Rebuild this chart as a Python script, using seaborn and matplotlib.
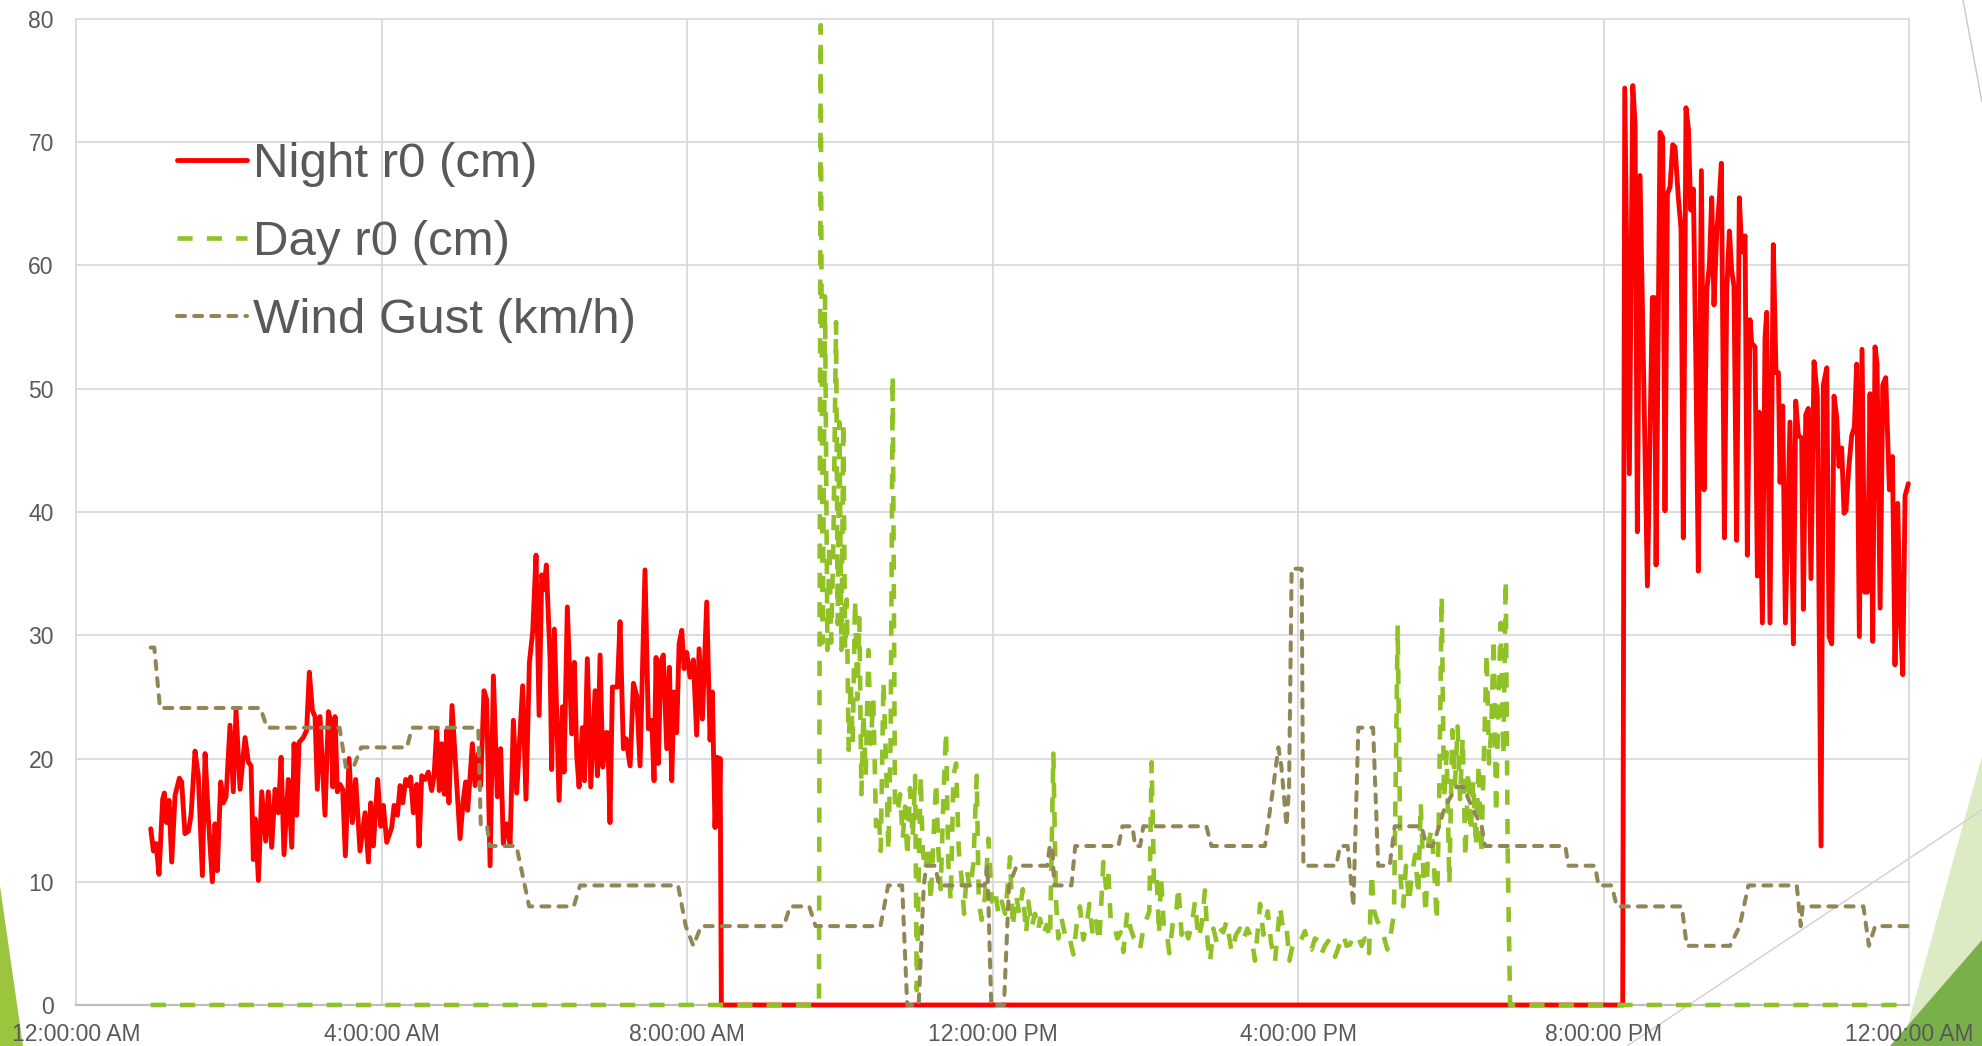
import matplotlib
matplotlib.use("Agg")
import matplotlib.pyplot as plt
import seaborn as sns
from matplotlib.patches import Polygon
from matplotlib.lines import Line2D

# ---- data: minutes after midnight and measured values ----
night_t = [58.7, 60.8, 62.9, 65.2, 68.1, 69.4, 71.2, 73.1, 75.2, 77.8, 81.2, 83.0, 85.6, 88.3, 90.4,
           93.5, 96.1, 99.3, 101.4, 104.0, 107.1, 109.2, 111.0, 113.7, 115.8, 117.9, 121.0, 123.6,
           125.7, 128.9, 132.8, 135.4, 137.5, 139.3, 140.9, 143.3, 145.9, 149.0, 151.1, 153.7, 156.4,
           159.0, 161.1, 163.4, 166.8, 169.5, 171.3, 173.4, 175.2, 178.6, 181.2, 183.3, 185.7, 187.8,
           189.6, 191.7, 195.6, 198.3, 200.4, 201.7, 203.5, 205.3, 207.4, 209.5, 211.6, 214.5, 217.1,
           219.7, 223.1, 227.1, 229.7, 231.5, 233.6, 237.0, 239.4, 241.5, 244.1, 248.0, 249.9, 252.5,
           254.6, 256.7, 259.0, 261.1, 262.9, 265.0, 267.7, 269.5,
           271.6, 274.2, 276.8, 279.4, 281.3, 283.4, 285.4, 287.3, 289.4, 291.2, 293.0, 295.4, 297.8,
           301.7, 304.3, 306.1, 307.7, 311.4, 313.5, 316.1, 317.9, 320.5, 322.6, 325.3, 327.9, 331.0,
           333.6, 335.7, 338.4, 341.0, 343.6, 346.2, 350.9, 353.5, 356.2, 358.8, 361.4, 363.8, 365.9,
           367.7, 369.5, 372.4, 373.7, 375.8, 379.5, 382.1, 383.4, 386.0, 389.4, 391.5, 393.4, 395.2,
           397.8, 399.4, 401.7, 404.4, 407.8, 409.6, 411.7, 413.8, 416.4, 417.7, 419.5, 421.4, 425.3,
           427.4, 430.0, 432.1, 435.3, 437.9, 440.5, 443.1, 447.0, 449.7, 452.3, 454.1, 455.7, 457.5,
           459.4, 461.4, 464.1, 466.2, 468.0, 469.8, 471.9, 473.8, 475.9, 477.7, 479.8, 482.4, 485.0,
           487.6, 489.5, 492.1, 495.5, 498.1, 499.9, 502.0, 503.9, 505.0, 506.0, 507.0,
           1215.1, 1216.7, 1220.3, 1223.0, 1224.8, 1226.6, 1228.7, 1234.5, 1238.4, 1240.0, 1241.3,
           1244.4, 1246.5, 1248.3, 1250.2, 1252.3, 1254.4, 1256.2, 1258.8, 1260.9, 1262.7, 1264.8,
           1266.7, 1268.5, 1270.6, 1272.7, 1274.5, 1276.9, 1279.0, 1281.1, 1283.2, 1285.0, 1286.8,
           1288.9, 1290.8, 1292.6, 1295.0, 1296.8, 1298.9, 1300.7, 1302.5, 1304.6, 1306.7, 1308.6,
           1311.2, 1313.0, 1315.1, 1316.4, 1319.0, 1320.9, 1322.4, 1324.8, 1326.9, 1328.2, 1330.8,
           1333.4, 1335.5, 1337.4, 1338.7, 1340.8, 1342.9, 1346.5, 1349.2, 1351.0, 1353.1, 1355.7,
           1357.0, 1358.9, 1360.9, 1363.0, 1365.4, 1368.0, 1370.9, 1372.7, 1375.4, 1377.2, 1379.3,
           1381.1, 1383.2, 1385.0, 1387.1, 1389.0, 1390.5, 1392.6, 1395.0, 1397.1, 1398.9, 1401.0,
           1403.1, 1405.2, 1407.3, 1409.4, 1411.5, 1413.3, 1414.9, 1417.3, 1419.4, 1421.7, 1424.6,
           1427.0, 1429.0, 1431.1, 1433.0, 1435.1, 1436.9, 1439.5]
night_r0 = [14.3, 12.5, 13.1, 10.6, 16.7, 17.2, 14.8, 16.6, 11.6, 17.0, 18.4, 18.1, 13.9, 14.1, 15.4,
            20.6, 18.6, 10.5, 20.4, 15.1, 10.0, 14.7, 10.9, 18.1, 16.4, 16.9, 22.7, 17.3,
            23.9, 17.5, 21.7, 19.7, 19.4, 11.8, 15.1, 10.1, 17.3, 13.3, 17.3, 12.8, 17.5,
            15.6, 20.1, 12.2, 18.3, 12.8, 21.2, 15.4, 21.3, 21.7, 22.3, 27.0, 23.9, 23.4,
            17.5, 23.4, 15.4, 23.8, 22.9, 17.7, 23.4, 17.3, 17.9, 17.5, 12.1, 20.0, 14.8,
            18.3, 12.5, 15.6, 11.6, 16.4, 12.9, 18.3, 14.5, 16.2, 13.2, 14.4, 16.2, 15.4,
            17.8, 16.4, 18.3, 17.8, 18.5, 15.6, 17.9, 12.9,
            18.6, 18.3, 18.9, 17.4, 18.6, 22.4, 17.4, 21.2, 17.1, 22.3, 16.4, 24.3, 20.2,
            13.5, 16.7, 18.1, 15.8, 21.2, 17.8, 20.4, 17.8, 25.5, 24.8, 11.3, 26.7, 16.9,
            20.8, 13.1, 14.7, 13.1, 23.1, 17.2, 25.9, 16.7, 27.8, 30.3, 36.5, 23.5, 34.9,
            33.7, 35.7, 28.1, 19.1, 30.5, 16.6, 24.2, 18.9, 32.3, 22.0, 27.8, 20.2, 17.7,
            22.5, 18.2, 28.1, 17.7, 25.5, 18.6, 28.4, 19.3, 22.1, 22.1, 14.8, 25.8, 25.8,
            31.1, 20.8, 21.6, 19.4, 26.1, 25.1, 19.4, 35.3, 22.4, 23.1, 18.2, 28.2, 19.6,
            27.8, 28.4, 20.8, 27.4, 18.2, 25.4, 22.1, 29.3, 30.4, 27.3, 28.6, 26.6, 28.0,
            21.9, 28.9, 23.2, 32.7, 21.5, 25.4, 14.4, 20.1, 14.5, 20.0, 0.0,
            0.0, 74.4, 43.1, 74.6, 71.5, 38.4, 67.3, 34.0, 57.4, 57.4, 35.7,
            70.8, 70.4, 40.1, 65.8, 66.4, 69.8, 69.6, 65.5, 63.0, 37.9, 72.8,
            71.1, 64.5, 66.2, 51.1, 35.2, 67.7, 41.8, 57.9, 60.0, 65.5, 56.8,
            62.6, 65.1, 68.3, 37.9, 57.9, 62.8, 59.6, 58.3, 37.7, 65.5, 61.1,
            62.4, 36.5, 55.6, 53.7, 53.4, 34.8, 48.1, 31.0, 54.1, 56.2, 31.0,
            61.7, 51.3, 51.3, 42.4, 48.6, 31.0, 47.3, 29.3, 49.0, 46.2, 46.0,
            32.1, 47.9, 48.4, 34.6, 52.2, 49.4, 12.9, 50.3, 51.7, 29.9, 29.3,
            49.4, 47.7, 43.7, 45.2, 39.9, 40.1, 43.5, 46.2, 46.9, 52.0, 29.9,
            53.2, 33.5, 33.5, 49.6, 29.5, 53.4, 52.0, 32.2, 50.3, 50.9, 41.8,
            44.5, 27.6, 40.7, 31.6, 26.8, 41.3, 42.3]

day_t = [58.7, 583.7, 585.0, 586.6, 588.4, 590.3, 591.8, 593.2, 595.0, 597.1, 598.4, 599.7, 601.3,
         602.8, 604.2, 605.5, 607.0, 608.6, 610.2, 612.0, 613.8, 615.4, 617.0, 618.6, 620.4, 622.5,
         624.3, 626.4, 628.5, 630.6, 632.2, 634.3, 636.4, 638.2, 640.0, 641.6, 643.4, 645.5, 647.4,
         649.5, 651.3, 653.1, 655.2, 657.3, 659.2, 660.5, 662.0, 663.6, 665.2, 667.3, 669.4, 671.5,
         673.6, 675.7, 677.5, 679.3, 681.4, 683.5, 685.3, 687.2, 689.3, 691.4, 693.5, 695.6, 697.7,
         699.8, 702.4, 705.0, 707.6, 709.2, 711.5, 714.2, 716.8, 719.4, 722.0, 724.6, 727.3, 729.9,
         731.7, 733.8, 735.9, 738.5, 741.1, 743.8, 746.4, 748.2, 750.8, 753.4, 756.1,
         757.3, 759.9, 762.5, 765.2, 767.8, 769.9, 771.7, 774.3, 776.9, 779.6, 783.5, 786.1, 788.7,
         791.3, 794.0, 796.1, 798.7, 801.3, 803.9, 807.1, 809.2, 811.0, 812.8, 815.4, 818.1, 820.7,
         822.8, 825.9, 828.5, 831.2, 833.8, 835.9, 838.5, 841.1, 843.2, 845.0, 846.9, 849.0, 850.8,
         852.4, 854.7, 856.8, 858.9, 861.5, 864.2, 866.0, 868.6, 871.2, 873.8, 876.5, 879.1, 881.7,
         884.3, 886.9, 889.0, 890.9, 893.5, 896.1, 898.7, 901.3, 903.9, 907.9, 911.3, 914.4, 917.1,
         920.2, 923.6, 926.2, 928.8, 930.2, 932.8, 936.2, 938.8, 941.9, 944.0, 945.9, 948.5, 951.1,
         953.2, 956.3, 960.3,
         962.9, 965.5, 968.1, 970.7, 973.3, 976.0, 978.6, 981.2, 983.8, 986.4, 989.1, 992.2, 995.6,
         998.2, 1000.8, 1004.0, 1007.4, 1010.0, 1012.6, 1015.8, 1017.9, 1019.7, 1022.3, 1024.4,
         1027.0, 1030.2, 1032.8, 1035.4, 1038.3, 1040.7, 1042.7, 1044.8, 1047.2, 1049.6, 1052.2,
         1054.5, 1056.4, 1058.5, 1060.3, 1062.4, 1065.0, 1067.1, 1069.0, 1070.8, 1072.9, 1074.7,
         1076.8, 1078.9, 1081.2, 1083.3, 1085.4, 1087.3, 1089.4, 1091.5, 1093.6, 1095.7, 1097.7,
         1099.8, 1101.9, 1104.0, 1106.1, 1108.2, 1110.1, 1111.9, 1113.7, 1115.6, 1117.4, 1119.2,
         1121.3, 1123.2, 1124.7, 1126.6, 1440.0]
day_r0 = [0.0, 0.0, 79.5, 29.4, 57.5, 28.8, 37.5, 29.4, 37.5, 55.4, 30.9, 47.3, 28.8,
          47.3, 28.8, 32.9, 20.7, 26.3, 21.2, 32.9, 24.8, 31.4, 17.1, 23.7, 18.6, 28.8,
          21.2, 24.8, 14.5, 15.6, 12.5, 26.3, 19.6, 12.5, 21.7, 51.1, 16.1, 15.6, 17.1,
          13.5, 16.1, 12.0, 17.6, 13.5, 18.6, 1.2, 10.4, 18.6, 12.5, 10.9, 13.0, 8.4,
          13.5, 18.1, 12.5, 9.4, 16.6, 22.2, 11.5, 8.4, 18.6, 19.6, 12.5, 10.4, 7.4,
          10.9, 9.4, 11.5, 18.6, 8.4, 6.9, 8.9, 13.5, 8.4, 9.4, 7.4, 8.4, 7.4,
          9.4, 12.0, 6.3, 8.9, 7.4, 9.4, 5.8, 8.4, 6.3, 7.4, 6.1,
          7.0, 5.7, 6.5, 5.4, 20.4, 8.4, 5.4, 7.0, 5.7, 5.9, 4.1, 6.5, 8.0,
          5.3, 6.5, 8.2, 5.7, 6.8, 5.1, 11.6, 9.5, 10.8, 7.0, 6.5, 5.4, 5.9,
          4.3, 7.6, 6.2, 5.4, 5.1, 4.5, 6.2, 7.0, 7.6, 19.7, 9.7, 10.4, 5.7,
          10.4, 6.2, 5.9, 4.2, 6.5, 7.3, 9.6, 5.7, 6.5, 5.4, 6.5, 8.4, 5.4,
          6.5, 9.3, 5.1, 3.5, 6.2, 5.1, 6.2, 5.9, 6.8, 4.3, 5.7, 6.2, 5.3,
          6.2, 5.4, 3.6, 6.5, 8.2, 5.7, 7.6, 5.1, 3.5, 5.9, 8.0, 5.9, 6.2,
          3.6, 5.1, 5.0,
          5.4, 6.0, 4.8, 4.5, 5.4, 5.2, 4.2, 4.8, 5.2, 4.5, 3.9, 4.8, 5.7,
          4.8, 4.9, 5.7, 5.5, 4.8, 5.4, 4.2, 10.7, 7.7, 6.8, 6.5,
          5.7, 4.5, 5.7, 7.4, 30.8, 10.1, 8.0, 11.3, 8.3, 10.7, 12.2,
          8.9, 16.4, 10.7, 7.4, 13.1, 14.3, 10.7, 6.8, 16.1, 33.2, 16.7,
          20.5, 9.8, 22.3, 17.9, 22.6, 16.7, 21.7, 11.9, 19.0, 14.0, 18.2,
          12.8, 19.6, 12.2, 20.5, 28.6, 19.6, 22.6, 29.8, 15.5, 24.1, 31.0,
          20.2, 34.5, 12.8, 0.0, 0.0]

gust_t = [58.7, 61.5, 66.0, 145.0, 150.0, 207.0, 212.0, 218.0, 224.0, 260.0, 264.0, 316.0, 318.0,
          323.0, 325.0, 346.0, 356.0, 391.0, 396.0, 473.0, 479.0, 485.0, 491.0, 556.0, 561.0,
          576.0, 581.0, 632.0, 638.0, 649.0, 653.0, 662.0, 666.0, 668.0, 675.0, 678.0, 714.0,
          716.0, 719.0, 729.0, 733.0, 739.0, 763.0, 765.0, 767.0, 768.5, 782.0, 785.0, 819.0,
          822.0, 830.0, 832.0, 836.0, 838.5, 888.0, 892.0, 934.0, 940.6, 944.6, 947.0, 951.0,
          953.0, 955.0, 962.9, 964.2, 990.0, 993.0, 999.0, 1003.5, 1007.4, 1019.0, 1023.0,
          1032.0, 1036.0, 1057.0, 1061.0, 1066.0, 1075.5, 1084.5, 1090.0, 1096.4, 1104.3,
          1107.0, 1170.0, 1172.4, 1174.5, 1193.4, 1196.0, 1206.5, 1210.4, 1261.5, 1265.4,
          1299.4, 1307.0, 1313.8, 1351.8, 1355.0, 1356.5, 1404.2, 1408.5, 1413.4, 1439.5]
gust_kmh = [29.0, 29.0, 24.1, 24.1, 22.5, 22.5, 19.3, 19.3, 20.9, 20.9, 22.5, 22.5, 14.5,
            14.5, 12.9, 12.9, 8.0, 8.0, 9.7, 9.7, 6.4, 4.8, 6.4, 6.4, 8.0,
            8.0, 6.4, 6.4, 9.7, 9.7, 0.0, 0.0, 9.7, 11.3, 11.3, 9.7, 9.7,
            11.3, 0.0, 0.0, 9.7, 11.3, 11.3, 12.9, 12.9, 9.7, 9.7, 12.9, 12.9,
            14.5, 14.5, 12.9, 12.9, 14.5, 14.5, 12.9, 12.9, 17.7, 20.9, 19.3, 14.5,
            17.7, 35.4, 35.4, 11.3, 11.3, 12.9, 12.9, 8.0, 22.5, 22.5, 11.3,
            11.3, 14.5, 14.5, 12.9, 12.9, 16.1, 17.7, 17.7, 16.1, 14.5,
            12.9, 12.9, 11.3, 11.3, 11.3, 9.7, 9.7, 8.0, 8.0, 4.8,
            4.8, 6.4, 9.7, 9.7, 6.4, 8.0, 8.0, 4.8, 6.4, 6.4]

series_names = ["Night r0 (cm)", "Day r0 (cm)", "Wind Gust (km/h)"]
tick_minutes = [0, 240, 480, 720, 960, 1200, 1440]
tick_labels = ["12:00:00 AM", "4:00:00 AM", "8:00:00 AM", "12:00:00 PM",
               "4:00:00 PM", "8:00:00 PM", "12:00:00 AM"]
y_ticks = [0, 10, 20, 30, 40, 50, 60, 70, 80]

# ---- styling ----
W, H = 1982, 1046
TEXT = "#595959"
RED = "#FF0000"
GREEN = "#90C226"
OLIVE = "#918655"

sns.set_theme(style="white")
plt.rcParams["font.family"] = ["Liberation Sans", "DejaVu Sans"]

fig = plt.figure(figsize=(W / 100, H / 100), dpi=100)
fig.patch.set_facecolor("white")


def fx(px):
    return px / W


def fy(py):
    return 1 - py / H


# slide theme decorations behind the chart
fig.add_artist(Polygon([(fx(0), fy(886)), (fx(0), fy(H)), (fx(23), fy(H))],
                       closed=True, transform=fig.transFigure, facecolor="#9BC53D",
                       edgecolor="none", zorder=0))
fig.add_artist(Polygon([(fx(W), fy(756)), (fx(1902), fy(H)), (fx(W), fy(H))],
                       closed=True, transform=fig.transFigure, facecolor="#DDEBC4",
                       edgecolor="none", zorder=0))
fig.add_artist(Polygon([(fx(W), fy(940)), (fx(1890), fy(H)), (fx(W), fy(H))],
                       closed=True, transform=fig.transFigure, facecolor="#79B04A",
                       edgecolor="none", zorder=0.1))
fig.add_artist(Line2D([fx(1963), fx(W)], [fy(0), fy(102)], transform=fig.transFigure,
                      color="#C8C8C8", lw=1.0, zorder=0.2))
fig.add_artist(Line2D([fx(1627), fx(W)], [fy(H), fy(810)], transform=fig.transFigure,
                      color="#D0D0D0", lw=1.0, zorder=0.2))

ax = fig.add_axes([fx(76), fy(1005), (1909 - 76) / W, (1005 - 19) / H])
ax.set_facecolor("none")
ax.set_zorder(1)

sns.lineplot(x=night_t, y=night_r0, ax=ax, color=RED, linewidth=3.5,
             estimator=None, sort=False, zorder=3)
sns.lineplot(x=day_t, y=day_r0, ax=ax, color=GREEN, linewidth=3.3,
             estimator=None, sort=False, zorder=4)
sns.lineplot(x=gust_t, y=gust_kmh, ax=ax, color=OLIVE, linewidth=2.9,
             estimator=None, sort=False, zorder=5)

red_line, green_line, gust_line = ax.lines[0], ax.lines[1], ax.lines[2]
for ln in (red_line, green_line, gust_line):
    ln.set_clip_on(False)
    ln.set_solid_joinstyle("round")
    ln.set_solid_capstyle("round")
green_line.set_linestyle((0, (3.3, 3.1)))
green_line.set_dash_capstyle("butt")
gust_line.set_linestyle((0, (2.0, 2.25)))
gust_line.set_dash_capstyle("round")

ax.set_xlim(0, 1440)
ax.set_ylim(0, 80)
ax.set_xticks(tick_minutes, tick_labels)
ax.set_yticks(y_ticks, [str(v) for v in y_ticks])
ax.set_xlabel("")
ax.set_ylabel("")
ax.grid(True, color="#D9D9D9", linewidth=1.3)
ax.set_axisbelow(True)
for gl in ax.get_xgridlines() + ax.get_ygridlines():
    gl.set_clip_on(False)
for side in ("left", "right", "top"):
    ax.spines[side].set_visible(False)
ax.spines["bottom"].set_color("#BFBFBF")
ax.spines["bottom"].set_linewidth(1.6)
ax.spines["bottom"].set_zorder(2)
ax.tick_params(axis="both", length=0, labelsize=16.5, labelcolor=TEXT)
ax.tick_params(axis="x", pad=13)
ax.tick_params(axis="y", pad=16)

leg = ax.legend([red_line, green_line, gust_line], series_names,
                loc="upper left", bbox_to_anchor=(fx(177), fy(142)),
                bbox_transform=fig.transFigure, frameon=False, fontsize=35.5,
                handlelength=1.42, handletextpad=0.12, labelspacing=0.67,
                borderpad=0, borderaxespad=0)
for txt in leg.get_texts():
    txt.set_color(TEXT)

fig.savefig("out.png", dpi=100, facecolor="white")
